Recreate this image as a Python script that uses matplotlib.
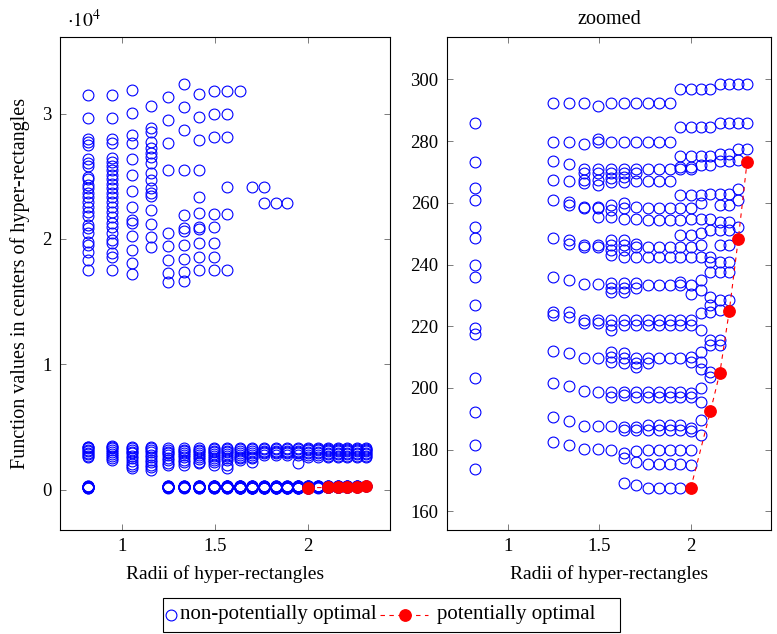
import matplotlib
matplotlib.use("Agg")
import matplotlib.pyplot as plt
from matplotlib.lines import Line2D
from matplotlib.patches import Rectangle
from matplotlib.ticker import FixedLocator, FixedFormatter

plt.rcParams['font.family'] = ['Liberation Serif', 'DejaVu Serif']
plt.rcParams['mathtext.fontset'] = 'stix'

# Radii (half-diagonals) of the hyper-rectangle groups
radii = [0.816, 0.943, 1.054, 1.155, 1.247, 1.333, 1.414, 1.491, 1.563, 1.633,
         1.700, 1.764, 1.826, 1.886, 1.944, 2.000, 2.055, 2.108, 2.160, 2.211,
         2.261, 2.309]

# Function values at rectangle centres, one list per radius group
f_0816 = [31498, 29641, 27944, 27753, 27490, 26351, 26080, 25817, 24964, 24757,
          24303, 24040, 23689, 23370, 22972, 22574, 22175, 21833, 21116, 20853,
          20502, 19785, 19522, 18988, 18327, 17530,
          3450, 3380, 3300, 3200, 3080, 2950, 2820, 2700, 2620,
          285.9, 273.3, 264.7, 260.9, 252.2, 248.5, 239.8, 236.0, 226.9, 219.3,
          217.4, 203.4, 192.3, 181.5, 173.9]
f_0943 = [31498, 29641, 27944, 27674, 26430, 26160, 25817, 25498, 25100, 24757,
          24382, 24040, 23689, 23323, 22972, 22574, 22175, 21777, 21251, 20932,
          20502, 19920, 19705, 18861, 18590, 17530,
          3520, 3420, 3300, 3150, 3000, 2850, 2700, 2500, 2350]
f_1054 = [31873, 30064, 28287, 27674, 26351, 25100, 23849, 22574, 21514, 21251,
          20239, 19124, 18064, 17211,
          3450, 3350, 3200, 3050, 2900, 2700, 2500, 2300, 2100, 1900, 1750]
f_1155 = [30598, 28821, 28550, 27753, 27227, 26876, 26510, 26032, 25283, 24701,
          24040, 23641, 23426, 22311, 21195, 20135, 19339,
          3400, 3300, 3150, 3000, 2800, 2600, 2400, 2200, 2000, 1800, 1600]
f_1247 = [31339, 29482, 27674, 25498, 20502, 19442, 18327, 17315, 16600,
          3320, 3200, 3050, 2900, 2750, 2550, 2350, 2150, 1950,
          292.2, 279.8, 273.5, 267.3, 260.9, 248.5, 236.0, 224.7, 223.6, 212.1,
          201.5, 190.5, 182.6]
f_1333 = [32351, 30542, 28685, 25498, 21912, 20853, 20662, 19522, 18383, 17394, 16677,
          3320, 3200, 3080, 2950, 2800, 2600, 2400, 2200, 2000,
          292.2, 279.8, 272.4, 267.0, 260.3, 259.3, 247.9, 246.8, 234.9, 224.7,
          223.1, 211.2, 200.5, 189.4, 181.5]
f_1414 = [31554, 29721, 27888, 25498, 23323, 22048, 20980, 20773, 19705, 18590, 17530,
          3320, 3200, 3080, 2950, 2800, 2650, 2450, 2250, 2130,
          292.2, 279.0, 270.9, 269.5, 267.4, 266.3, 258.7, 258.2, 246.3, 245.8,
          233.8, 222.0, 220.9, 209.6, 199.0, 187.8, 180.1]
f_1491 = [31817, 29960, 28154, 21992, 20932, 19705, 18590, 17530,
          3320, 3220, 3100, 2980, 2850, 2700, 2550, 2400, 2200, 2000,
          291.4, 280.5, 279.8, 270.9, 269.5, 267.4, 265.8, 258.7, 258.2, 255.5,
          246.3, 245.8, 233.8, 222.0, 220.9, 209.6, 198.8, 187.8, 180.1]
f_1563 = [31817, 29960, 28154, 24167, 21992, 17530,
          3320, 3220, 3100, 2980, 2850, 2700, 2550, 2350, 2000, 1730,
          292.2, 279.8, 270.9, 269.5, 267.9, 266.8, 259.3, 257.6, 255.5, 247.9,
          246.3, 244.7, 243.1, 233.9, 232.3, 231.2, 222.0, 220.4, 218.8, 211.7,
          210.1, 208.5, 198.8, 197.2, 187.8, 179.9]
f_1633 = [31817,
          3320, 3220, 3100, 2950, 2800, 2650, 2500, 2400,
          292.2, 279.8, 270.9, 269.5, 268.4, 266.8, 259.8, 258.2, 254.9, 247.9,
          246.3, 244.7, 242.5, 233.9, 232.3, 231.2, 222.0, 220.4, 211.2, 209.6,
          208.0, 198.8, 197.7, 187.4, 186.4, 178.8, 177.2, 169.1]
f_1700 = [24167,
          3320, 3220, 3100, 2950, 2800, 2650, 2500, 2260,
          292.2, 279.8, 270.9, 269.5, 267.0, 258.7, 254.9, 246.8, 245.8, 242.5,
          233.9, 232.3, 222.0, 220.4, 209.6, 208.0, 206.9, 198.8, 197.2, 187.4,
          186.4, 179.7, 176.1, 168.5]
f_1764 = [24167, 22892,
          3320, 3230, 3130, 3020, 2900, 2800,
          292.2, 279.8, 270.9, 267.0, 258.2, 254.4, 245.8, 242.5, 233.4, 222.0,
          220.4, 209.6, 208.0, 198.8, 197.2, 188.0, 186.4, 179.9, 175.3, 167.5]
f_1826 = [22892,
          3320, 3230, 3130, 3020, 2900, 2800,
          292.2, 279.8, 270.9, 267.0, 258.2, 254.4, 245.8, 242.5, 233.4, 222.0,
          220.4, 209.6, 198.8, 197.2, 188.0, 186.4, 179.9, 175.3, 167.5]
f_1886 = [22892,
          3320, 3230, 3130, 3020, 2900, 2800,
          292.2, 279.8, 270.9, 267.0, 258.2, 254.4, 245.8, 242.5, 233.4, 222.0,
          220.4, 209.6, 198.8, 197.2, 188.0, 186.4, 179.9, 175.3, 167.5]
f_1944 = [3320, 3230, 3130, 3020, 2900, 2800, 2180,
          296.9, 284.4, 275.1, 271.7, 270.9, 262.5, 258.2, 254.4, 249.5, 245.8,
          242.5, 234.4, 233.4, 222.0, 220.4, 209.6, 198.8, 197.2, 188.0, 186.4,
          179.9, 175.3, 167.5]
f_2000 = [3330, 3240, 3140, 3030, 2900, 2780, 2650,
          296.9, 284.4, 275.1, 271.7, 270.9, 262.5, 258.2, 254.9, 249.5, 245.8,
          242.5, 233.4, 230.6, 222.0, 220.4, 210.1, 208.5, 198.3, 197.0, 187.2,
          186.1, 179.9, 175.0]
f_2055 = [3330, 3240, 3140, 3030, 2900, 2780, 2650,
          296.9, 284.4, 275.1, 272.2, 262.5, 259.8, 254.9, 250.1, 246.3, 242.5,
          234.9, 231.7, 224.2, 218.8, 211.7, 208.5, 206.3, 199.9, 195.5, 189.6,
          184.7]
f_2108 = [3370, 3280, 3180, 3080, 2960, 2850, 2720, 2600,
          296.9, 284.4, 275.1, 272.2, 263.0, 254.9, 251.2, 242.5, 240.9, 237.7,
          229.6, 226.9, 224.7, 215.5, 213.9, 205.3, 203.6]
f_2160 = [3370, 3280, 3180, 3080, 2960, 2850, 2720, 2600,
          298.5, 285.9, 275.8, 273.6, 263.0, 259.3, 253.9, 251.2, 246.3, 240.9,
          237.7, 228.5, 225.2, 215.5, 213.9]
f_2211 = [3370, 3280, 3180, 3080, 2960, 2850, 2720, 2600,
          298.5, 285.9, 275.8, 273.6, 263.0, 259.3, 253.9, 251.2, 246.3, 240.9,
          237.7, 228.5]
f_2261 = [3370, 3280, 3180, 3080, 2960, 2850, 2720, 2600,
          298.5, 285.9, 277.3, 273.8, 264.5, 260.9, 252.2]
f_2309 = [3370, 3280, 3180, 3080, 2960, 2850, 2720, 2600,
          298.5, 285.9, 277.3]

values_by_radius = [f_0816, f_0943, f_1054, f_1155, f_1247, f_1333, f_1414, f_1491,
                    f_1563, f_1633, f_1700, f_1764, f_1826, f_1886, f_1944, f_2000,
                    f_2055, f_2108, f_2160, f_2211, f_2261, f_2309]

# Potentially optimal hyper-rectangles (lower-right convex hull)
po_radii = [2.000, 2.108, 2.160, 2.211, 2.261, 2.309]
po_values = [167.5, 192.4, 205.0, 224.8, 248.4, 273.3]

x_ticks = [1, 1.5, 2]
x_tick_labels = ["1", "1.5", "2"]
left_y_ticks = [0, 10000, 20000, 30000]
left_y_tick_labels = ["0", "1", "2", "3"]
right_y_ticks = [160, 180, 200, 220, 240, 260, 280, 300]
legend_labels = ["non-potentially optimal", "potentially optimal"]

xs, ys = [], []
for r, vals in zip(radii, values_by_radius):
    xs.extend([r] * len(vals))
    ys.extend(vals)

W, H = 777, 634
fig = plt.figure(figsize=(W / 100, H / 100), dpi=100)
ax_full = fig.add_axes([60 / W, 1 - 530 / H, 330 / W, 493 / H])
ax_zoom = fig.add_axes([447 / W, 1 - 530 / H, 324 / W, 493 / H])

blue_style = dict(linestyle='none', marker='o', markersize=7.8, markerfacecolor='none',
                  markeredgecolor='blue', markeredgewidth=0.8)
red_style = dict(color='red', linestyle=(0, (4, 4)), linewidth=0.8, marker='o',
                 markersize=8.2, markerfacecolor='red', markeredgecolor='red')

for ax in (ax_full, ax_zoom):
    ax.plot(xs, ys, **blue_style)
    ax.plot(po_radii, po_values, **red_style)
    ax.set_xlim(0.665, 2.44)
    ax.xaxis.set_major_locator(FixedLocator(x_ticks))
    ax.xaxis.set_major_formatter(FixedFormatter(x_tick_labels))
    ax.tick_params(direction='in', top=True, right=True, length=4, width=0.6,
                   color='#666666', labelsize=13.5, pad=6)
    for s in ax.spines.values():
        s.set_linewidth(0.8)
    ax.set_xlabel("Radii of hyper-rectangles", fontsize=14, labelpad=7)

ax_full.set_ylim(-3200, 36100)
ax_full.yaxis.set_major_locator(FixedLocator(left_y_ticks))
ax_full.yaxis.set_major_formatter(FixedFormatter(left_y_tick_labels))
ax_full.set_ylabel("Function values in centers of hyper-rectangles", fontsize=14.5,
                   labelpad=9)
ax_full.text(0.02, 1.012, r"$\cdot 10^{4}$", transform=ax_full.transAxes,
             fontsize=14, ha='left', va='bottom')

ax_zoom.set_ylim(154, 313.7)
ax_zoom.set_yticks(right_y_ticks)
ax_zoom.set_title("zoomed", fontsize=14.5, pad=9)

# Legend box below both panels, laid out in figure pixel coordinates
def fx(px):
    return px / W

def fy(py):
    return 1 - py / H

fig.patches.append(Rectangle((fx(163), fy(632)), fx(620) - fx(163), fy(598) - fy(632),
                             transform=fig.transFigure, fill=False,
                             edgecolor='black', linewidth=0.8))
ly = fy(615)
fig.lines.append(Line2D([fx(171)], [ly], transform=fig.transFigure, **blue_style))
fig.text(fx(180), ly, legend_labels[0], fontsize=15, ha='left', va='center')
fig.lines.append(Line2D([fx(380), fx(428)], [ly, ly], transform=fig.transFigure,
                        color='red', linewidth=0.8, linestyle=(0, (4, 4))))
fig.lines.append(Line2D([fx(405)], [ly], transform=fig.transFigure, linestyle='none',
                        marker='o', markersize=8.2, markerfacecolor='red',
                        markeredgecolor='red'))
fig.text(fx(437), ly, legend_labels[1], fontsize=15, ha='left', va='center')

fig.savefig("out.png", dpi=100)
